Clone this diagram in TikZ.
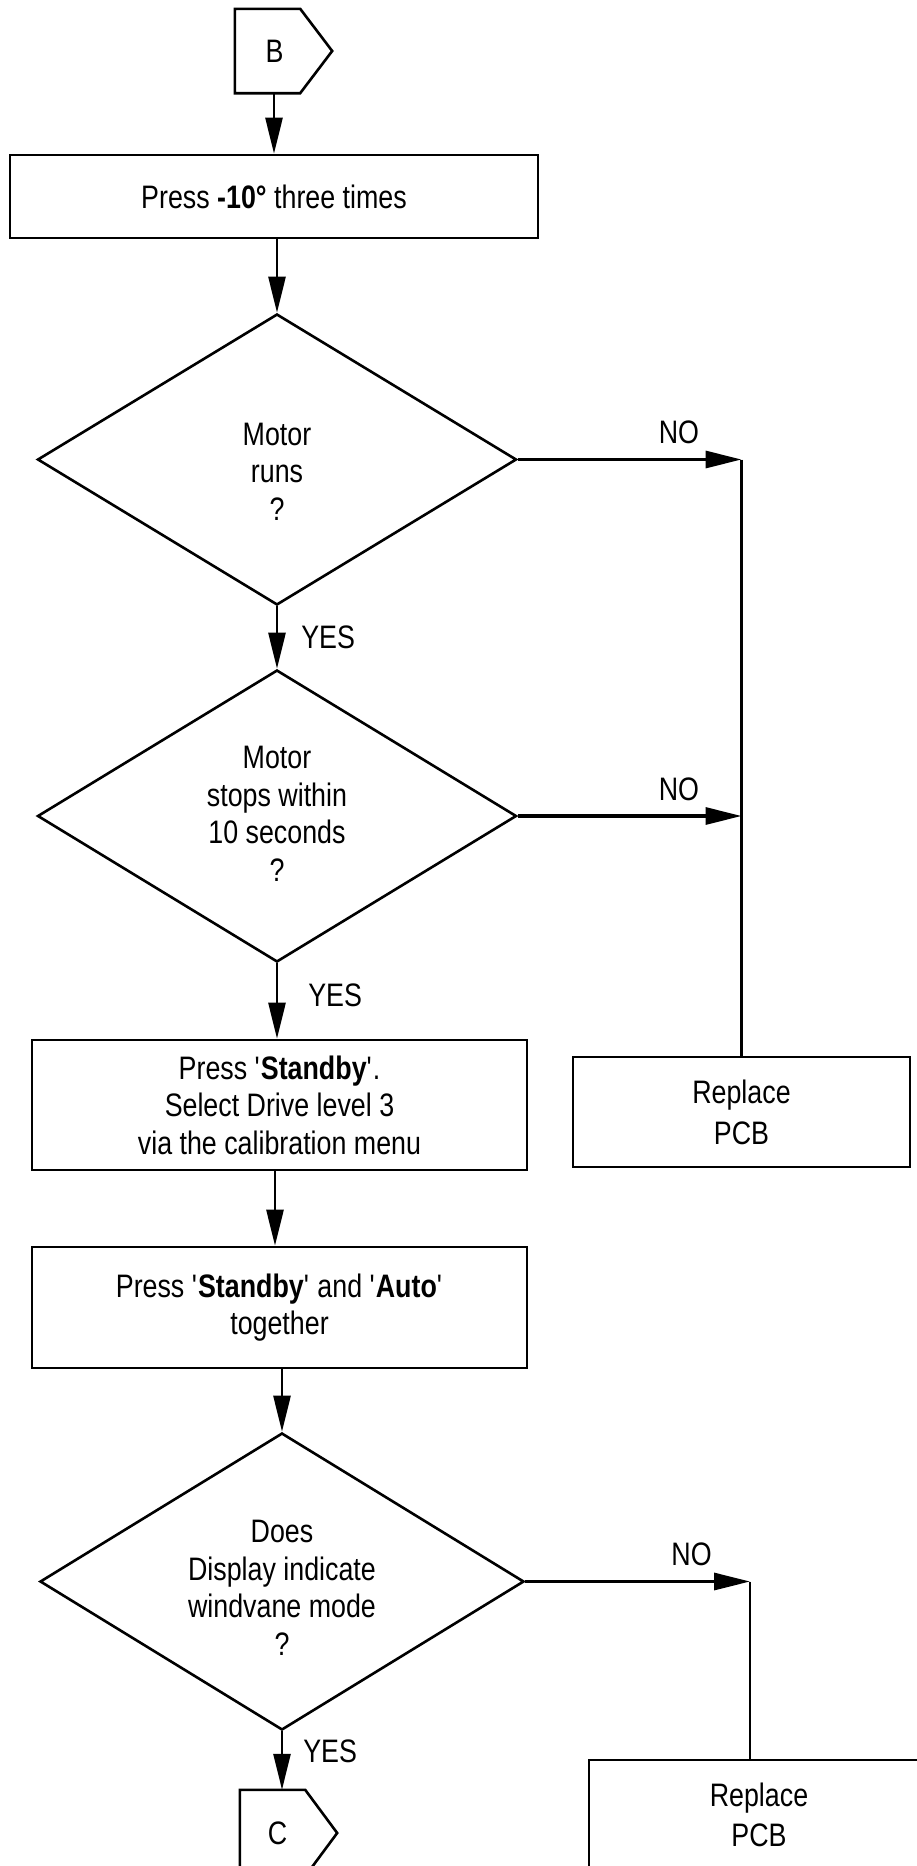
\documentclass[tikz,border=0pt]{standalone}
\usepackage{fontspec}
\setmainfont{Liberation Sans}[FakeStretch=0.825]
\usetikzlibrary{arrows.meta,shapes.geometric,calc}
\begin{document}
\begin{tikzpicture}[x=1pt,y=-1pt,
  every node/.style={font=\fontsize{32.5}{37.5}\selectfont, inner sep=0pt},
  box/.style={draw, line width=2.6pt, rectangle, align=center},
  conn/.style={rectangle, minimum width=65pt, minimum height=84pt},
  dec/.style={draw, line width=2.6pt, diamond, aspect=1.64},
  txt/.style={align=center},
  arr/.style={line width=2.6pt, -{Triangle[length=36pt,width=17pt]}},
  noarr/.style={line width=3.2pt, -{Triangle[length=36pt,width=17pt]}},
  vline/.style={line width=2.4pt},
  shapeline/.style={line width=2.6pt, line join=miter},
]
\useasboundingbox (0,0) rectangle (917,1866);
\clip (0,0) rectangle (917,1866);

% connector B
\node[conn] (B) at (267.5,51) {\hspace*{14pt}B};
\draw[shapeline] (B.north west) -- (B.north east) -- ($(B.east)+(32,0)$) -- (B.south east) -- (B.south west) -- cycle;

% boxes
\node[box, minimum width=528pt, minimum height=83pt] (box1) at (274,196.5) {Press \textbf{-10°} three times};

\node[dec, minimum width=479pt, minimum height=291pt] (d1) at (277,459.5) {};
\node[txt] (d1t) at (277,471.5) {Motor\\runs\\?};

\node[dec, minimum width=479pt, minimum height=292pt] (d2) at (277,816) {};
\node[txt] (d2t) at (277,814) {Motor\\stops within\\10 seconds\\?};

\node[box, minimum width=495pt, minimum height=130pt] (box2) at (279.5,1105)
  {Press \textquotesingle\textbf{Standby}\textquotesingle.\\Select Drive level 3\\via the calibration menu};

\node[box, minimum width=495pt, minimum height=121pt] (box3) at (279.5,1307.5)
  {Press \textquotesingle\textbf{Standby}\textquotesingle{} and \textquotesingle\textbf{Auto}\textquotesingle\\together};

\node[dec, minimum width=484pt, minimum height=297pt] (d3) at (282,1581.5) {};
\node[txt] (d3t) at (282,1588) {Does\\Display indicate\\windvane mode\\?};

\node[box, minimum width=337pt, minimum height=110pt, font=\fontsize{32.5}{41}\selectfont] (pcb1) at (741.5,1112) {Replace\\PCB};
\node[box, minimum width=340pt, minimum height=110pt, font=\fontsize{32.5}{40}\selectfont] (pcb2) at (759,1815) {Replace\\PCB};

% connector C
\node[conn, minimum height=86pt] (C) at (272.5,1833) {\hspace*{10pt}C};
\draw[shapeline] (C.north west) -- (C.north east) -- ($(C.east)+(32,0)$) -- (C.south east) -- (C.south west) -- cycle;

% junctions
\coordinate (j1) at (pcb1.north |- d1.east);
\coordinate (j3) at (750,1581.5);

% main flow
\draw[arr] (box1.north |- B.south) -- (box1.north);
\draw[arr] (d1.north |- box1.south) -- (d1.north);
\draw[arr] (d1.south) -- node[anchor=west, xshift=23pt] (yes1) {YES} (d2.north);
\draw[arr] (d2.south) -- node[pos=0.42, anchor=west, xshift=30pt] (yes2) {YES} (d2.south |- box2.north);
\draw[arr] (box2.south -| 275,0) -- (box3.north -| 275,0);
\draw[arr] (d3.north |- box3.south) -- (d3.north);
\draw[arr] (d3.south) -- node[pos=0.35, anchor=west, xshift=20pt] (yes3) {YES} (d3.south |- C.north);

% NO branches
\draw[noarr] (d1.east) -- node[pos=0.72, above=14pt] (no1) {NO} (j1);
\draw[noarr] (d2.east) -- node[pos=0.72, above=14pt] (no2) {NO} (d2.east -| j1);
\draw[vline] (j1) -- (pcb1.north -| j1);
\draw[noarr] (d3.east) -- node[pos=0.74, above=14pt] (no3) {NO} (j3);
\draw[vline] (j3) -- (j3 |- pcb2.north);
\end{tikzpicture}
\end{document}
